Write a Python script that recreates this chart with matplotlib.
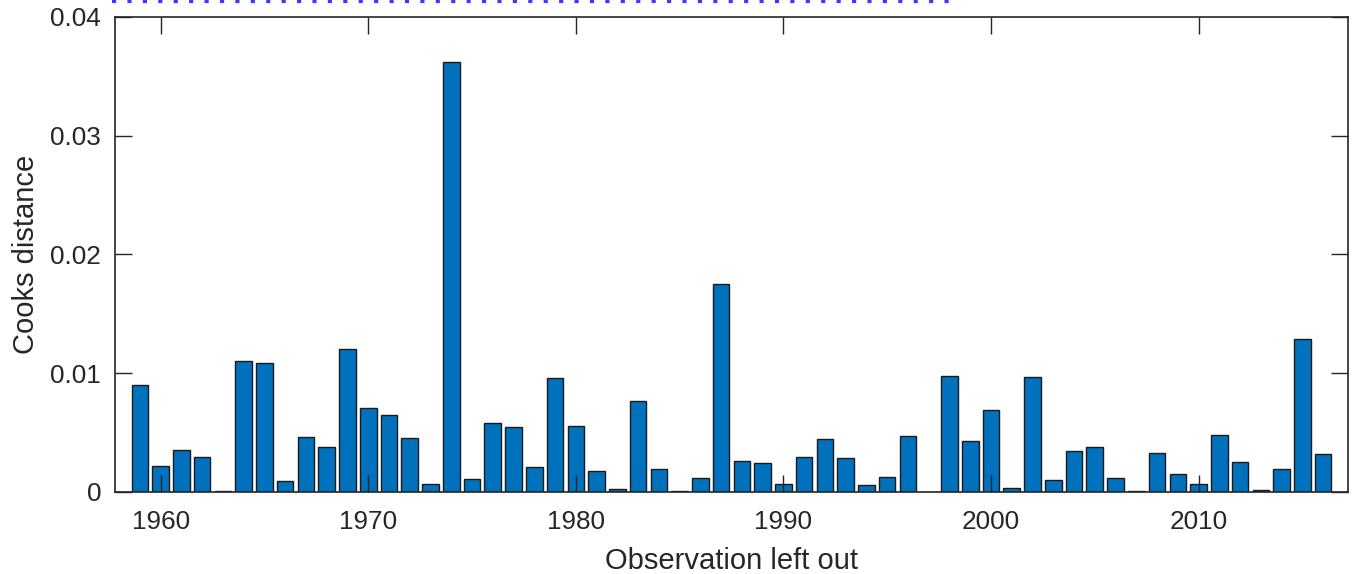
import numpy as np
import matplotlib.pyplot as plt
from matplotlib.lines import Line2D

plt.rcParams["font.family"] = ["Liberation Sans", "DejaVu Sans"]

# Cook's distance for each observation (year) left out of the fit
years = list(range(1959, 2017))
cooks_d = [
    0.0090, 0.00216, 0.00351, 0.00295, 0.00005, 0.0110, 0.0109, 0.0009,
    0.00463, 0.00379, 0.0120, 0.00703, 0.00646, 0.00455, 0.00071, 0.0362,
    0.00107, 0.00584, 0.00548, 0.00211, 0.00958, 0.00556, 0.0018, 0.00025,
    0.0077, 0.00194, 0.00005, 0.00118, 0.0175, 0.00259, 0.00242, 0.00065,
    0.00295, 0.00444, 0.00284, 0.00062, 0.00124, 0.00475, 0.00002, 0.0098,
    0.00433, 0.00688, 0.00031, 0.00969, 0.00099, 0.00346, 0.00377, 0.00121,
    0.00012, 0.00329, 0.00149, 0.00068, 0.00478, 0.00253, 0.00017, 0.00191,
    0.01289, 0.00323,
]
xticks = [1960, 1970, 1980, 1990, 2000, 2010]
yticks = [0, 0.01, 0.02, 0.03, 0.04]
ytick_labels = ["0", "0.01", "0.02", "0.03", "0.04"]

axis_col = "#262626"

fig = plt.figure(figsize=(13.54, 5.74), dpi=100)
ax = fig.add_axes([0.0849, 0.1429, 0.9107, 0.8275])

ax.bar(years, cooks_d, width=0.8, color="#0072BD", edgecolor="#1a1a1a",
       linewidth=1.0)

ax.set_xlim(1957.8, 2017.2)
ax.set_ylim(0, 0.04)
ax.set_xticks(xticks)
ax.set_yticks(yticks)
ax.set_yticklabels(ytick_labels)

ax.tick_params(direction="in", length=12, width=1, colors=axis_col,
               labelsize=18.8, top=True, right=True)
ax.tick_params(axis="x", pad=13)
ax.tick_params(axis="y", pad=10)
for s in ax.spines.values():
    s.set_color(axis_col)
    s.set_linewidth(1.2)

ax.set_xlabel("Observation left out", fontsize=21, color=axis_col,
              labelpad=9)
ax.set_ylabel("Cooks distance", fontsize=21, color=axis_col, labelpad=7)

# dotted blue rule along the top edge of the figure
fig.add_artist(Line2D([112 / 1354, 953 / 1354], [0.998, 0.998],
                      transform=fig.transFigure, color="#3a3aff",
                      linestyle=(0, (1, 2.7)), linewidth=3))

fig.savefig("out.png", dpi=100)
